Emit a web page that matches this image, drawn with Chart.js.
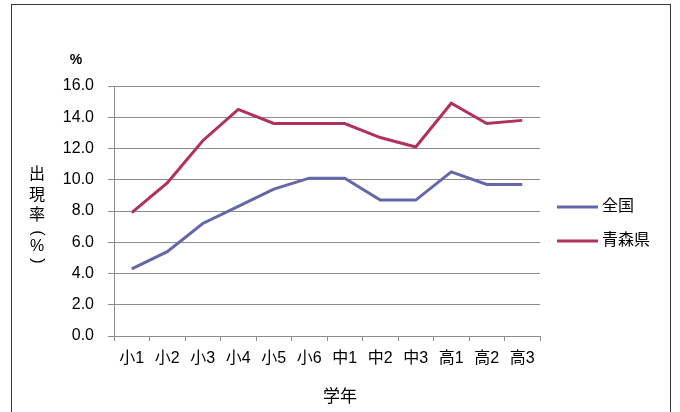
<!DOCTYPE html>
<html>
<head>
<meta charset="utf-8">
<script src="https://cdn.jsdelivr.net/npm/chart.js@4/dist/chart.umd.min.js"></script>
<style>
  html, body { margin: 0; padding: 0; background: #fff; }
  #wrap { position: relative; width: 680px; height: 412px; overflow: hidden; }
  #frame { position: absolute; left: 11px; top: 4px; width: 660px; height: 420px;
           border: 1.5px solid #3a3432; box-sizing: border-box; }
  canvas { position: absolute; left: 0; top: 0; }
</style>
</head>
<body>
<div id="wrap">
  <div id="frame"></div>
  <canvas id="c" width="680" height="412"></canvas>
</div>
<script>
/* ---- data ---- */
const grades    = ["小1","小2","小3","小4","小5","小6","中1","中2","中3","高1","高2","高3"];
const national  = [4.3, 5.4, 7.2, 8.3, 9.4, 10.1, 10.1, 8.7, 8.7, 10.5, 9.7, 9.7];
const aomori    = [7.9, 9.8, 12.5, 14.5, 13.6, 13.6, 13.6, 12.7, 12.1, 14.9, 13.6, 13.8];
const seriesNames = ["全国", "青森県"];
const yTitle = ["出","現","率","(","%",")"];
const xTitle = "学年";
const yUnit  = "%";

const BLUE = "#6468a8";
const RED  = "#b0305e";
const GRID = "#8c8c8c";
const FONT = "'Liberation Sans', 'Noto Sans CJK JP', sans-serif";

/* ---- extra text: axis titles, unit and legend ---- */
const extras = {
  id: "extras",
  afterDraw(chart) {
    const ctx = chart.ctx;
    ctx.save();
    ctx.fillStyle = "#000";
    ctx.textAlign = "center";
    ctx.textBaseline = "middle";
    ctx.font = "16px " + FONT;
    // vertical y title, upright characters; brackets turned sideways
    const ys = [175, 196, 216, 233, 247, 261];
    yTitle.forEach((ch, i) => {
      if (ch === "(" || ch === ")") {
        ctx.save();
        ctx.translate(37, ys[i]);
        ctx.rotate(Math.PI / 2);
        ctx.fillText(ch, 0, 0);
        ctx.restore();
      } else {
        ctx.fillText(ch, 37, ys[i]);
      }
    });
    // unit
    ctx.font = "bold 14px " + FONT;
    ctx.fillText(yUnit, 76, 60);
    // x title
    ctx.font = "17px " + FONT;
    ctx.fillText(xTitle, 340, 397);
    // legend
    ctx.font = "16px " + FONT;
    ctx.textAlign = "left";
    chart.data.datasets.forEach((ds, i) => {
      const y = 207 + i * 34;
      ctx.strokeStyle = ds.borderColor;
      ctx.lineWidth = 3;
      ctx.beginPath(); ctx.moveTo(557, y); ctx.lineTo(598, y); ctx.stroke();
      ctx.fillText(ds.label, 602, y);
    });
    ctx.restore();
  }
};

new Chart(document.getElementById("c"), {
  type: "line",
  data: {
    labels: grades,
    datasets: [
      { label: seriesNames[0], data: national, borderColor: BLUE, backgroundColor: BLUE,
        borderWidth: 3, pointRadius: 0, tension: 0 },
      { label: seriesNames[1], data: aomori, borderColor: RED, backgroundColor: RED,
        borderWidth: 3, pointRadius: 0, tension: 0 }
    ]
  },
  options: {
    responsive: false,
    animation: false,
    layout: { padding: { top: 86, right: 140, left: 0, bottom: 0 } },
    plugins: { legend: { display: false }, tooltip: { enabled: false } },
    scales: {
      x: {
        offset: true,
        grid: { offset: true, drawOnChartArea: false, drawTicks: true, tickLength: 5, color: GRID },
        border: { color: GRID, width: 1 },
        ticks: { color: "#000", font: { family: FONT, size: 16 }, padding: 8, maxRotation: 0, autoSkip: false },
        afterFit: s => { s.height = 76; }
      },
      y: {
        min: 0, max: 16,
        grid: { color: GRID, lineWidth: 1, tickLength: 6 },
        border: { color: GRID, width: 1 },
        ticks: { stepSize: 2, color: "#000", font: { family: FONT, size: 16 }, padding: 14,
                 callback: v => v.toFixed(1) },
        afterFit: s => { s.width = 114; }
      }
    }
  },
  plugins: [extras]
});
</script>
</body>
</html>
